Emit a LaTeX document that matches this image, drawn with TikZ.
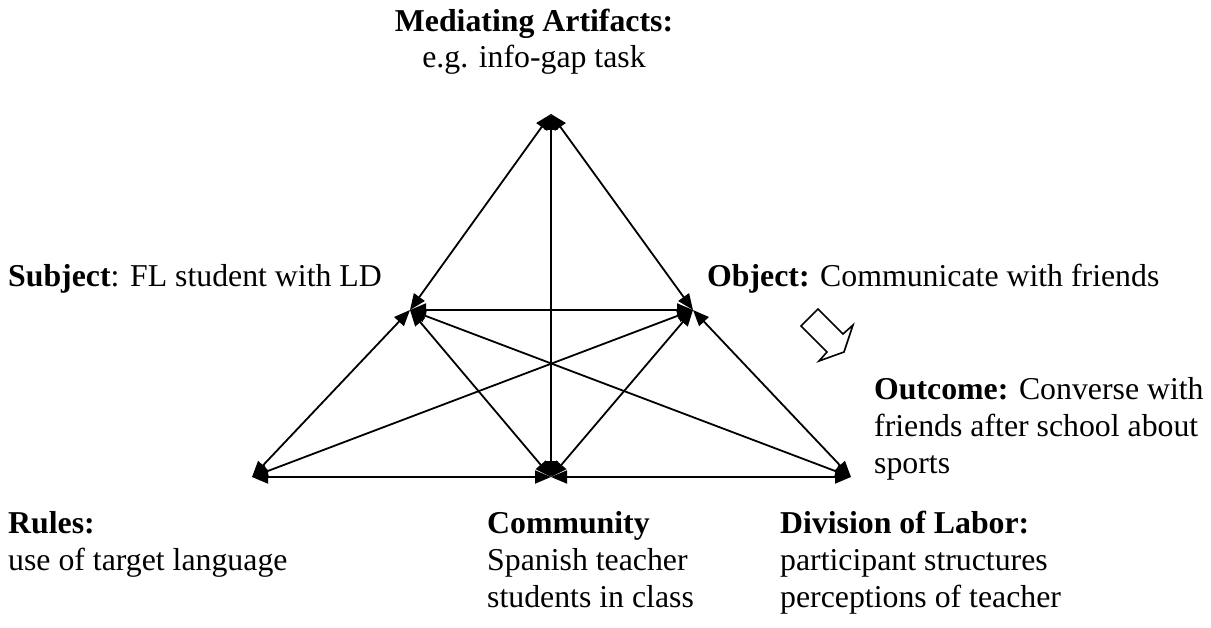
\documentclass[tikz,border=0pt]{standalone}
\usepackage{fontspec}
\setmainfont{Liberation Serif}
\usetikzlibrary{arrows.meta}
\begin{document}
\begin{tikzpicture}[x=1pt,y=-1pt,
  link/.style={line width=1.8pt,{Triangle[length=16pt,width=13pt]}-{Triangle[length=16pt,width=13pt]}},
  lbl/.style={font=\fontsize{31.8}{37}\selectfont,inner sep=0pt,align=left,anchor=base west},
  hollow/.style={draw,line width=1.6pt,line join=miter,fill=white}]
\useasboundingbox (0,0) rectangle (1211,628);
\coordinate (A) at (551,114);
\coordinate (L) at (410,310);
\coordinate (R) at (693,310);
\coordinate (BL) at (252,477);
\coordinate (BC) at (551,477);
\coordinate (BR) at (851,477);
\draw[link] (A) -- (L);
\draw[link] (A) -- (R);
\draw[link] (A) -- (BC);
\draw[link] (L) -- (R);
\draw[link] (L) -- (BL);
\draw[link] (L) -- (BC);
\draw[link] (L) -- (BR);
\draw[link] (R) -- (BR);
\draw[link] (R) -- (BC);
\draw[link] (R) -- (BL);
\draw[link] (BL) -- (BC);
\draw[link] (BC) -- (BR);
\draw[hollow] (801,326) -- (818,309) -- (843,334) -- (853,325) -- (844,352) -- (819,361) -- (827,352) -- cycle;
\node[lbl,font=\fontsize{31.8}{36}\selectfont,align=center,anchor=base] (med) at (534,68) {\textbf{Mediating Artifacts:}\\e.g. info-gap task};
\node[lbl] (subj) at (8,287) {\textbf{Subject}: FL student with LD};
\node[lbl] (obj) at (707,287) {\textbf{Object:} Communicate with friends};
\node[lbl] (out) at (874,473) {\textbf{Outcome:} Converse with\\friends after school about\\sports};
\node[lbl] (rules) at (8,570) {\textbf{Rules:}\\use of target language};
\node[lbl] (comm) at (487,607) {\textbf{Community}\\Spanish teacher\\students in class};
\node[lbl] (div) at (780,607) {\textbf{Division of Labor:}\\participant structures\\perceptions of teacher};
\end{tikzpicture}
\end{document}
